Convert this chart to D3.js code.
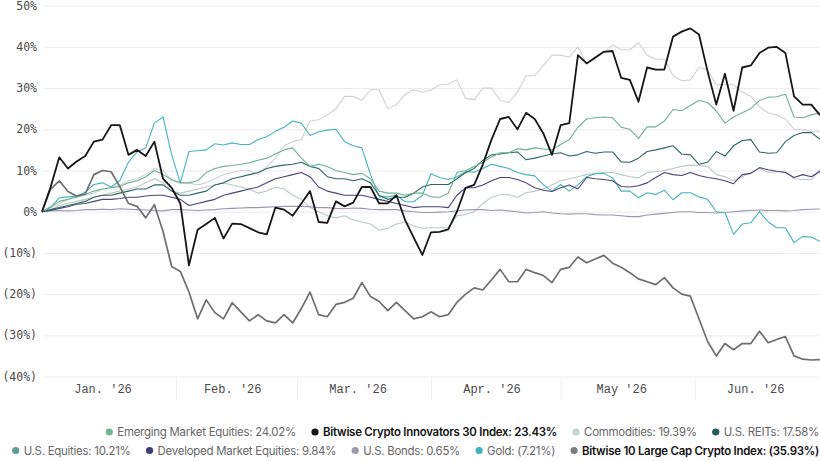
<!DOCTYPE html>
<html>
<head>
<meta charset="utf-8">
<script src="https://cdn.jsdelivr.net/npm/d3@7"></script>
<style>
  body { margin: 0; background: #fff; }
  svg { display: block; }
</style>
</head>
<body>
<div id="chart"></div>
<script>
const svgWidth = 820;
const svgHeight = 461;

// one value every second day, Jan 1 -> Jun 30 2026
const startDate = new Date(Date.UTC(2026, 0, 1));
const dates = d3.range(91).map(i => d3.utcDay.offset(startDate, i * 2));

const emerging = [0, 1.2, 2.5, 3, 3.6, 4.2, 5, 5.5, 5.8, 6.1,
  7, 7.5, 8.5, 10, 9, 7.8, 7, 7, 7.5, 9.5,
  10.5, 11, 11.2, 11.5, 11.9, 12.5, 13, 14, 15, 15.5,
  13, 11, 11.5, 11, 10, 9.5, 9, 9.3, 8, 5,
  4.5, 4.5, 4, 4.5, 4.5, 3.6, 3.5, 4.5, 9.5, 10,
  11, 12, 13.3, 14.3, 14.3, 15.3, 15, 15.5, 15.2, 15,
  16.3, 17.5, 20.5, 22.5, 22.8, 23, 22.8, 20.5, 20, 17.8,
  20.6, 20.6, 22, 24.8, 24.5, 25.8, 27, 26.5, 24.5, 21.5,
  23, 24, 25, 27, 27.8, 27.9, 28.5, 23, 22.8, 23.5, 24];

const innovators = [0, 6, 13.2, 10.5, 12.2, 13.5, 17, 17.5, 21, 21,
  13.8, 15, 13.5, 17, 8, 5.8, 2, -13, -4.4, -3,
  -1.5, -6.5, -2.9, -3, -4, -5, -5.5, 1, 0.5, -1,
  2, 5, -2.5, -2.7, 2.5, 1.3, 2.2, 6, 6, 2,
  2, 4, -2, -6.3, -10.5, -5, -4.9, -4.3, 0, 5.8,
  6.5, 11.5, 17.5, 22.5, 23, 20, 24, 22.5, 19, 13.8,
  21, 21.5, 38, 36, 37.4, 38.8, 39, 32.5, 32, 26.7,
  35, 34.5, 34.5, 42.5, 43.7, 44.5, 43, 34, 26, 33.5,
  24.5, 35, 35.5, 38.5, 39.8, 40, 38.5, 28, 26, 26, 23.4];

const commodities = [0, 1, 2, 3, 3.5, 4, 4.5, 5.5, 6, 6.5,
  7.5, 8, 9, 10.5, 10, 7.5, 7, 7, 6.5, 7,
  8, 9, 9.5, 10, 10, 9, 11, 13, 16, 17,
  17.5, 22, 22.3, 23.5, 25, 28, 28, 27, 29.6, 29.6,
  25, 26, 28.5, 29.6, 29, 29.5, 30.8, 31, 32, 27.5,
  27.2, 30, 30, 27, 26.5, 29, 33, 33, 35.5, 38,
  38, 37.5, 40, 36, 37, 38.8, 40.5, 39.3, 39.3, 41,
  38, 37, 37, 33, 31.8, 32, 35, 34.5, 30.8, 30.8,
  30.8, 29, 28, 25.5, 24, 23.5, 22.5, 20, 19.9, 19.5, 19.4];

const reits = [0, 0.5, 1, 1.5, 2, 2.5, 3.5, 4, 4, 4.5,
  5, 5.5, 5.5, 6.5, 6.5, 5, 4, 4, 4.5, 5,
  6.5, 7, 8, 8.5, 9, 9.5, 10.5, 11, 11.3, 11.5,
  12, 11, 10.5, 8.5, 8, 8, 7.5, 8, 7, 4,
  3, 3.5, 3.5, 4.5, 6, 6.6, 6.6, 6.6, 8, 9.5,
  10.5, 12.5, 13.8, 14, 14.3, 14.5, 12.6, 13, 13.5, 14,
  14.3, 13.5, 13.8, 14.6, 14.2, 14.5, 14.5, 12.1, 12, 13,
  14.6, 15, 15.5, 16, 14, 13.8, 11.5, 12, 14.6, 13.5,
  16, 17.3, 17.5, 14.5, 14.2, 14.3, 17, 18.5, 19.2, 19.2, 17.6];

const usEquities = [0, 0.5, 1.5, 2, 2.5, 3, 3.5, 4, 4.5, 5,
  5.5, 6, 7, 8, 7, 5, 4.5, 5, 5.5, 6,
  6.5, 7, 6.5, 6, 5.5, 4.5, 5, 6, 5.5, 4,
  3, 1, 0, -1, -1.5, -1, -2, -2.5, -3, -4.5,
  -4, -3, -2.5, -3.5, -4, -3.9, -3.9, -3.9, -1, -0.7,
  0, 2, 3.5, 4.1, 4.1, 3.5, 4.6, 5, 5.5, 6.5,
  7.5, 8, 8.5, 9, 9.3, 9.5, 9.5, 9, 8.5, 8.2,
  9.5, 9.7, 10, 10.5, 11, 11.3, 11.2, 11, 9, 8.5,
  7.5, 8.5, 9.5, 10.5, 9.5, 9.7, 9.7, 8, 7.8, 7.8, 10.2];

const developed = [0, 0.3, 0.8, 1.2, 1.8, 2, 2.5, 3, 3, 3.2,
  3.5, 3.5, 3.8, 4, 4, 3.5, 3, 1.5, 2, 2.5,
  3, 4, 4.5, 5, 5.5, 6, 7, 8, 8.5, 9,
  9.5, 8.5, 6, 5, 4.5, 4, 4, 4, 3.5, 3,
  2.5, 2, 1.5, 1, 1.2, 1.2, 1.2, 1, 4, 5.8,
  5.8, 6.5, 7.5, 8.3, 8.3, 7.8, 7, 5.8, 5.2, 4.9,
  5.8, 6.5, 5.5, 8.3, 8, 7.8, 7.5, 6.1, 6, 6.3,
  7, 8.3, 9.5, 9, 8.8, 9.5, 8.8, 8.3, 8, 7.5,
  6.8, 9, 9.3, 10.7, 10.2, 9.8, 9.5, 8.3, 9, 8.5, 9.8];

const bonds = [0, 0.2, 0.3, 0.2, 0.3, 0.5, 0.5, 0.6, 0.5, 0.7,
  0.6, 0.5, 0.4, 0.3, 0.2, 0.5, 0.5, 0.4, 0.3, 0.4,
  0.5, 0.7, 0.8, 0.9, 1, 1, 1.1, 1.2, 1.3, 1.3,
  1.3, 1.2, 1, 1, 0.8, 0.7, 0.9, 0.8, 0.6, 0.5,
  0.5, 0.5, 0.2, 0, -0.2, -0.2, -0.1, 0, 0.2, 0.4,
  0.5, 0.5, 0.3, 0.4, 0.2, 0, -0.3, -0.2, 0, -0.3,
  -0.5, -0.6, -0.5, -0.5, -0.7, -0.8, -0.8, -1, -1.2, -1.2,
  -0.8, -0.6, -0.4, -0.2, 0, 0, -0.2, -0.2, -0.3, -0.2,
  0, 0.2, 0.3, 0.4, 0.3, 0.3, 0.2, 0.3, 0.5, 0.6, 0.65];

const gold = [0, 1, 3.4, 3.6, 3.8, 4.7, 6.6, 7, 6, 7.5,
  12, 14.5, 15.5, 21.5, 23, 13.8, 7, 14.6, 14.8, 15,
  16.5, 16.2, 16.7, 16.3, 16.3, 17.5, 18.2, 19.5, 20.5, 22,
  21.5, 18.5, 19.4, 19.8, 20, 17, 16, 15.5, 9, 3.6,
  3.6, 4, 2.4, 2.4, 4, 9.2, 8.3, 7.8, 8.5, 9.7,
  9.6, 10.5, 11.5, 11, 10.5, 9.5, 9, 8.7, 6.5, 5,
  6.6, 5, 6.5, 8.5, 9.2, 9.3, 8.2, 5, 5, 3.4,
  4.6, 4.2, 5.2, 2.9, 4.6, 4.6, 3.6, 3, 0, -0.2,
  -5.5, -3, -2.7, 0, -2.5, -3.9, -3.9, -7.5, -6, -6.2, -7.2];

const largeCap = [0, 5.5, 7.5, 4.9, 3.8, 4.3, 9, 10, 9.7, 6.1,
  2, 1.3, -1.5, 1.7, -4.8, -13.3, -14.5, -19.5, -26, -21.4,
  -24.5, -26, -22.1, -24.3, -26.5, -25, -26.5, -27, -25, -27,
  -23.5, -19.5, -25, -25.5, -22.5, -22, -21, -17.2, -20.6, -21.8,
  -24, -22, -24, -26, -25.5, -24.3, -25.5, -25, -22, -20,
  -18.5, -19, -16.5, -14, -17, -17, -14, -14.8, -15.5, -17.2,
  -14, -13.5, -11, -12.4, -11.5, -10.6, -12.5, -13.5, -14.8, -16.3,
  -17, -17.7, -16, -18.5, -20, -20.5, -26, -31.5, -35, -32,
  -33.5, -32, -32, -29, -31.8, -31, -30.3, -35, -35.8, -36, -35.9];

// legend rows, in the order they appear
const legendRow1 = ['emerging', 'innovators', 'commodities', 'reits'];
const legendRow2 = ['usEquities', 'developed', 'bonds', 'gold', 'largeCap'];

const series = {
  emerging:    { label: 'Emerging Market Equities: 24.02%', values: emerging, color: '#6cb293', dot: '#6fb793', width: 1.1 },
  innovators:  { label: 'Bitwise Crypto Innovators 30 Index: 23.43%', values: innovators, color: '#161616', dot: '#161616', width: 1.8, bold: true },
  commodities: { label: 'Commodities: 19.39%', values: commodities, color: '#cdd3d0', dot: '#c2d5cb', width: 1.1 },
  reits:       { label: 'U.S. REITs: 17.58%', values: reits, color: '#2a6762', dot: '#1e5d5d', width: 1.1 },
  usEquities:  { label: 'U.S. Equities: 10.21%', values: usEquities, color: '#b9c9c5', dot: '#5f9e94', width: 1.1 },
  developed:   { label: 'Developed Market Equities: 9.84%', values: developed, color: '#48447a', dot: '#3e3a7a', width: 1.1 },
  bonds:       { label: 'U.S. Bonds: 0.65%', values: bonds, color: '#9b98aa', dot: '#9d9aab', width: 1.1 },
  gold:        { label: 'Gold: (7.21%)', values: gold, color: '#45b4bd', dot: '#3cb3bf', width: 1.1 },
  largeCap:    { label: 'Bitwise 10 Large Cap Crypto Index: (35.93%)', values: largeCap, color: '#6e6e6e', dot: '#7d7d7d', width: 1.7, bold: true }
};

const drawOrder = ['commodities', 'usEquities', 'bonds', 'gold', 'developed', 'reits', 'emerging', 'largeCap', 'innovators'];

const yTicks = [-40, -30, -20, -10, 0, 10, 20, 30, 40, 50];
const monthLabels = [
  new Date(Date.UTC(2026, 0, 15)), new Date(Date.UTC(2026, 1, 14)), new Date(Date.UTC(2026, 2, 15)),
  new Date(Date.UTC(2026, 3, 15)), new Date(Date.UTC(2026, 4, 15)), new Date(Date.UTC(2026, 5, 15))
];
const monthStarts = [
  new Date(Date.UTC(2026, 1, 1)), new Date(Date.UTC(2026, 2, 1)), new Date(Date.UTC(2026, 3, 1)),
  new Date(Date.UTC(2026, 4, 1)), new Date(Date.UTC(2026, 5, 1))
];

const plotLeft = 42, plotRight = 820;

const svg = d3.select('#chart')
  .append('svg')
  .attr('width', svgWidth)
  .attr('height', svgHeight);

const x = d3.scaleUtc()
  .domain([dates[0], dates[dates.length - 1]])
  .range([plotLeft, plotRight]);

const y = d3.scaleLinear()
  .domain([-40, 50])
  .range([376.5, 5.7]);

// gridlines
svg.append('g')
  .attr('transform', `translate(${plotLeft + 2}, 0)`)
  .call(d3.axisLeft(y).tickValues(yTicks).tickSize(-(plotRight - plotLeft - 2)).tickFormat(''))
  .call(g => g.select('.domain').remove())
  .call(g => g.selectAll('line').attr('stroke', '#ececec'));

// y labels
svg.append('g')
  .attr('transform', 'translate(37, 0)')
  .call(d3.axisLeft(y).tickValues(yTicks).tickSize(0).tickPadding(0)
    .tickFormat(v => v < 0 ? `(${-v}%)` : `${v}%`))
  .call(g => g.select('.domain').remove())
  .call(g => g.selectAll('text')
    .attr('fill', '#4a4a4a')
    .style('font-family', '"DejaVu Sans Mono", monospace')
    .style('font-size', '11.5px'));

// month separators
svg.append('g')
  .attr('transform', 'translate(0, 378)')
  .call(d3.axisBottom(x).tickValues(monthStarts).tickSize(22).tickFormat(''))
  .call(g => g.select('.domain').remove())
  .call(g => g.selectAll('line').attr('stroke', '#f0f0f0'));

// month labels
const fmt = d3.utcFormat("%b. '%y");
svg.append('g')
  .attr('transform', 'translate(0, 376)')
  .call(d3.axisBottom(x).tickValues(monthLabels).tickSize(0).tickPadding(8)
    .tickFormat(d => d.getUTCMonth() === 4 ? "May '26" : fmt(d)))
  .call(g => g.select('.domain').remove())
  .call(g => g.selectAll('text')
    .attr('fill', '#4a4a4a')
    .style('font-family', '"Liberation Mono", monospace')
    .style('font-size', '12px'));

// lines
const line = d3.line()
  .x((d, i) => x(dates[i]))
  .y(d => y(d));

svg.append('g')
  .selectAll('path')
  .data(drawOrder)
  .enter()
  .append('path')
  .attr('d', k => line(series[k].values))
  .attr('fill', 'none')
  .attr('stroke', k => series[k].color)
  .attr('stroke-width', k => series[k].width)
  .attr('stroke-linejoin', 'round');

// legend, right aligned rows
const legend = svg.append('g')
  .style('font-family', 'Inter, "Noto Sans", sans-serif')
  .style('font-size', '11.45px');

function drawRow(keys, cy) {
  const items = keys.map(k => {
    const g = legend.append('g');
    g.append('circle')
      .attr('r', 3.6)
      .attr('fill', series[k].dot);
    const t = g.append('text')
      .attr('x', 8)
      .attr('y', 0)
      .attr('dy', '0.35em')
      .attr('fill', series[k].bold ? '#111' : '#666')
      .style('font-weight', series[k].bold ? 600 : 400)
      .style('letter-spacing', '-0.25px')
      .text(series[k].label);
    return { g, w: t.node().getComputedTextLength() };
  });
  let right = 819;
  for (let i = items.length - 1; i >= 0; i--) {
    const cx = right - items[i].w - 8;
    items[i].g.attr('transform', `translate(${cx}, ${cy})`);
    right = cx - 19;
  }
}
drawRow(legendRow1, 432);
drawRow(legendRow2, 450.5);
</script>
</body>
</html>
